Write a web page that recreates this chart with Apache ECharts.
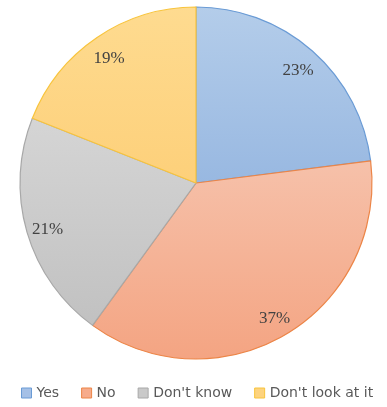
<!DOCTYPE html>
<html>
<head>
<meta charset="utf-8">
<script src="https://cdn.jsdelivr.net/npm/echarts@6/dist/echarts.min.js"></script>
<style>
  html, body { margin: 0; padding: 0; background: #ffffff; }
  #chart { width: 387px; height: 407px; }
</style>
</head>
<body>
<div id="chart"></div>
<script>
// Survey answers, shares in percent
const categories = ['Yes', 'No', "Don't know", "Don't look at it"];
const shares = [23, 37, 21, 19];

// Slice styling: gradient top / bottom and outline per answer
const topColors = ['#b4cdea', '#f6c1aa', '#d5d5d5', '#fedb90'];
const bottomColors = ['#98b8e1', '#f4a482', '#c1c1c1', '#fdd07a'];
const edgeColors = ['#6a9bd5', '#ec8547', '#a8a8a8', '#f8c43c'];
const legendFill = ['#a5c0e6', '#f6ab8b', '#c9c9c9', '#fdd37e'];

const chart = echarts.init(document.getElementById('chart'), null, { renderer: 'canvas' });

const sliceData = categories.map((name, i) => ({
  name,
  value: shares[i],
  itemStyle: {
    color: new echarts.graphic.LinearGradient(0, 0, 0, 1, [
      { offset: 0, color: topColors[i] },
      { offset: 1, color: bottomColors[i] }
    ]),
    borderColor: edgeColors[i],
    borderWidth: 1.2
  }
}));

// Transparent ring carrying the percentage labels near the rim
const labelData = categories.map((name, i) => ({ name, value: shares[i] }));

chart.setOption({
  animation: false,
  backgroundColor: '#ffffff',
  legend: {
    left: 16,
    top: 381,
    icon: 'rect',
    itemWidth: 10,
    itemHeight: 10,
    itemGap: 22,
    textStyle: { fontFamily: 'DejaVu Sans', fontSize: 14, color: '#595959' },
    data: categories.map((name, i) => ({
      name,
      itemStyle: { color: legendFill[i], borderColor: edgeColors[i], borderWidth: 1 }
    }))
  },
  series: [
    {
      type: 'pie',
      center: [196, 183],
      radius: [0, 176],
      startAngle: 90,
      clockwise: true,
      label: { show: false },
      labelLine: { show: false },
      emphasis: { disabled: true },
      data: sliceData
    },
    {
      type: 'pie',
      center: [196, 183],
      radius: [127, 176],
      startAngle: 90,
      clockwise: true,
      silent: true,
      legendHoverLink: false,
      itemStyle: { color: 'rgba(0,0,0,0)' },
      label: {
        show: true,
        position: 'inside',
        formatter: '{c}%',
        fontFamily: 'Liberation Serif',
        fontSize: 17,
        color: '#424242',
        offset: [0, 3]
      },
      labelLine: { show: false },
      emphasis: { disabled: true },
      data: labelData
    }
  ]
});
</script>
</body>
</html>
